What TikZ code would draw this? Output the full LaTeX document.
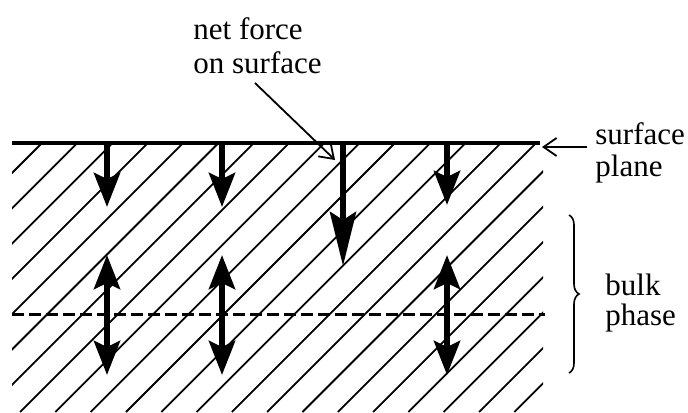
\documentclass[tikz,border=0pt]{standalone}
\usepackage{fontspec}
\setmainfont{Liberation Serif}
\usetikzlibrary{arrows.meta,decorations.pathreplacing}

\tikzset{
  hatch/.style={line width=0.9pt},
  force/.style={line width=3pt,-{Stealth[length=17pt,width=13pt,inset=3pt]}},
  bigforce/.style={line width=3pt,-{Stealth[length=27pt,width=13pt,inset=4pt]}},
  twoway/.style={line width=3pt,{Stealth[length=17pt,width=13pt,inset=3pt]}-{Stealth[length=17pt,width=13pt,inset=3pt]}},
  pointer/.style={line width=0.9pt,-{Straight Barb[length=6.5pt,width=9pt]}},
  lbl/.style={align=left,inner sep=0pt,anchor=north west}
}

\begin{document}
\begin{tikzpicture}[x=0.5pt,y=-0.5pt]
    \useasboundingbox (0,0) rectangle (688,412);

    % hatched bulk
    \begin{scope}
        \clip (12,143) rectangle (543,412);
        \foreach \n in {-1,...,22}
            \draw[hatch] ({185+35.3*\n-412},412) -- ({185+35.3*\n-143},143);
    \end{scope}

    \coordinate (SL) at (12,143);
    \coordinate (SR) at (540,143);
    \coordinate (DL) at (12,314);
    \coordinate (DR) at (545,314);

    \draw[line width=2pt] (SL) -- (SR);
    \draw[line width=1.5pt,dash pattern=on 6pt off 2.5pt] (DL) -- (DR);

    % forces at the surface
    \foreach \x/\y in {107/207,222/207,447/205}
        \draw[force] (\x,143) -- (\x,\y);
    \draw[bigforce] (343,143) -- (343,266);

    % forces in the bulk
    \foreach \x in {107,222,447}
        \draw[twoway] (\x,255) -- (\x,375);

    \node[lbl,font=\fontsize{15.5}{17}\selectfont] (netlbl) at (193,17) {net force\\on surface};
    \node[lbl,font=\fontsize{15.5}{16}\selectfont] (surflbl) at (595,122) {surface\\plane};
    \node[lbl,font=\fontsize{15.5}{15}\selectfont] (bulklbl) at (605,274) {bulk\\phase};

    \coordinate (leadS) at (255,83);
    \coordinate (leadE) at (335,160);
    \coordinate (planeS) at (587,147);
    \coordinate (planeE) at (542,147);
    \draw[pointer] (leadS) -- (leadE);
    \draw[pointer] (planeS) -- (planeE);

    \coordinate (braceT) at (569,215);
    \coordinate (braceB) at (569,373);
    \draw[line width=0.8pt,decorate,decoration={brace,amplitude=5pt}] (braceT) -- (braceB);
\end{tikzpicture}
\end{document}
